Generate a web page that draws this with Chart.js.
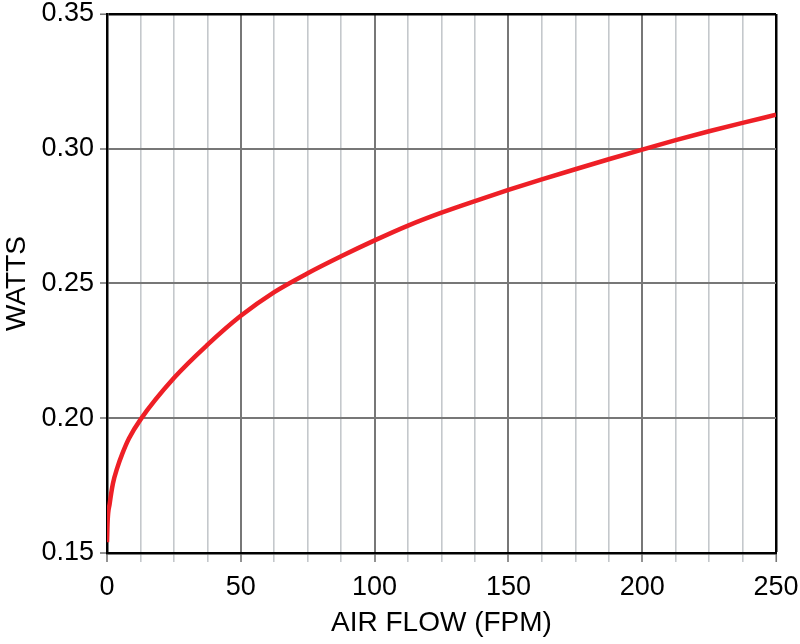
<!DOCTYPE html>
<html>
<head>
<meta charset="utf-8">
<script src="https://cdn.jsdelivr.net/npm/chart.js@4/dist/chart.umd.min.js"></script>
<style>
	html, body { margin: 0; padding: 0; background: #fff; }
	canvas { display: block; }
</style>
</head>
<body>
<canvas id="chart" width="800" height="644"></canvas>
<script>
// values
const airFlow = [0, 0.25, 1, 2.2, 3.9, 5.7, 8.2, 12.5, 25, 37.5, 50, 62.5, 75, 87.5, 100, 112.5, 125, 137.5, 150, 162.5, 175, 187.5, 200, 212.5, 225, 237.5, 250];
const watts = [0.154, 0.1621, 0.1683, 0.1757, 0.1818, 0.1868, 0.1925, 0.1995, 0.2149, 0.2272, 0.2380, 0.2468, 0.2538, 0.2601, 0.2660, 0.2715, 0.2763, 0.2806, 0.2847, 0.2886, 0.2924, 0.2961, 0.2997, 0.3032, 0.3065, 0.3096, 0.3126];
const xTicks = [0, 50, 100, 150, 200, 250];
const yTicks = [0.15, 0.20, 0.25, 0.30, 0.35];

const font = "'Liberation Sans', Arial, sans-serif";

function isNear(a, b) {
	return Math.abs(a - b) < 1e-6;
}

let chart = new Chart(
	document.getElementById('chart'),
	{
		type: 'line',
		data: {
			datasets: [
				{
					label: 'Watts',
					data: airFlow.map((x, i) => ({ x: x, y: watts[i] })),
					borderColor: '#ee1f26',
					borderWidth: 4.5,
					pointRadius: 0,
					cubicInterpolationMode: 'monotone',
					fill: false
				}
			]
		},
		options: {
			responsive: false,
			animation: false,
			devicePixelRatio: 1,
			layout: { padding: { top: 14, right: 24, left: 0, bottom: 0 } },
			plugins: {
				legend: { display: false },
				tooltip: { enabled: false }
			},
			scales: {
				x: {
					type: 'linear',
					min: 0,
					max: 250,
					afterFit: scale => {
						scale.height = 91;
						// don't let the end labels push the plot area in
						scale.paddingLeft = 0;
						scale.paddingRight = 0;
					},
					ticks: {
						stepSize: 12.5,
						autoSkip: false,
						maxRotation: 0,
						padding: 9,
						color: '#000',
						font: { family: font, size: 27 },
						callback: v => xTicks.includes(v) ? String(v) : ''
					},
					grid: {
						tickLength: 9,
						color: ctx => {
							const v = ctx.tick.value;
							if (v === 250) return '#000';
							return v % 50 === 0 ? '#777' : '#c4c8cc';
						},
						lineWidth: ctx => {
							const v = ctx.tick.value;
							if (v === 250) return 2.5;
							return v % 50 === 0 ? 2 : 1.6;
						},
						tickColor: ctx => ctx.tick.value % 50 === 0 ? '#777' : '#c4c8cc',
						tickWidth: 1.6
					},
					border: { display: true, color: '#000', width: 2.5 },
					title: {
						display: true,
						text: 'AIR FLOW (FPM)',
						color: '#000',
						font: { family: font, size: 28 },
						padding: { top: 0, bottom: 4 }
					}
				},
				y: {
					type: 'linear',
					min: 0.15,
					max: 0.35,
					afterFit: scale => {
						scale.width = 107;
						scale.paddingTop = 0;
						scale.paddingBottom = 0;
					},
					afterBuildTicks: scale => {
						scale.ticks = yTicks.map(v => ({ value: v }));
					},
					ticks: {
						padding: 6,
						color: '#000',
						font: { family: font, size: 27 },
						callback: v => v.toFixed(2)
					},
					grid: {
						tickLength: 7,
						color: ctx => isNear(ctx.tick.value, 0.35) ? '#000' : '#777',
						lineWidth: ctx => isNear(ctx.tick.value, 0.35) ? 2.5 : 2,
						tickColor: '#777',
						tickWidth: 1.6
					},
					border: { display: true, color: '#000', width: 2.5 },
					title: {
						display: true,
						text: 'WATTS',
						color: '#000',
						font: { family: font, size: 28 },
						padding: { top: 0, bottom: 0 }
					}
				}
			}
		}
	}
);
</script>
</body>
</html>
